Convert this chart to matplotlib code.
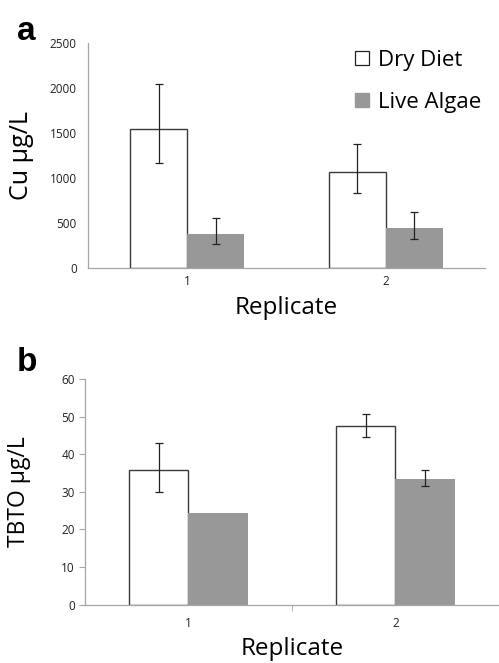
import matplotlib
matplotlib.use("Agg")
import matplotlib.pyplot as plt
import numpy as np
from matplotlib.lines import Line2D

# Data
replicates = ["1", "2"]
series_names = ["Dry Diet", "Live Algae"]

cu_dry = [1550, 1070]
cu_dry_err_low = [380, 237]
cu_dry_err_high = [494, 308]
cu_live = [381, 441]
cu_live_err_low = [118, 119]
cu_live_err_high = [178, 178]

tbto_dry = [35.9, 47.5]
tbto_dry_err_low = [5.9, 3.0]
tbto_dry_err_high = [7.2, 3.1]
tbto_live = [24.5, 33.4]
tbto_live_err_low = [0.0, 1.9]
tbto_live_err_high = [0.0, 2.4]

cu_yticks = [0, 500, 1000, 1500, 2000, 2500]
tbto_yticks = [0, 10, 20, 30, 40, 50, 60]

FONT = "Open Sans"
plt.rcParams['font.family'] = [FONT, 'DejaVu Sans']

fig = plt.figure(figsize=(4.99, 6.63), dpi=100)

DRY_FACE = "white"
DRY_EDGE = "#3a3a3a"
LIVE_FACE = "#989898"
AXCOL = "#a6a6a6"
width = 0.287
x = np.arange(1, len(replicates) + 1)

def draw(ax, dry, dlo, dhi, live, llo, lhi, yticks, ylabel, show_ticks, ylfs):
    ax.bar(x - width / 2, dry, width, color=DRY_FACE, edgecolor=DRY_EDGE, linewidth=1.0, zorder=2)
    ax.bar(x + width / 2, live, width, color=LIVE_FACE, edgecolor="none", zorder=2)
    ax.errorbar(x - width / 2, dry, yerr=[dlo, dhi], fmt="none", ecolor="#222222",
                elinewidth=0.9, capsize=2.7, capthick=0.9, zorder=3)
    lo = np.array(llo); hi = np.array(lhi)
    mask = (lo + hi) > 0
    ax.errorbar((x + width / 2)[mask], np.array(live)[mask], yerr=[lo[mask], hi[mask]], fmt="none",
                ecolor="#222222", elinewidth=0.9, capsize=2.7, capthick=0.9, zorder=3)
    ax.set_xlim(0.5, 2.5)
    ax.set_ylim(yticks[0], yticks[-1])
    ax.set_yticks(yticks)
    ax.set_yticklabels([str(t) for t in yticks], fontsize=8.5, color="#222222")
    ax.set_xticks(x)
    ax.set_xticklabels(replicates, fontsize=8.5, color="#222222")
    for s in ["top", "right"]:
        ax.spines[s].set_visible(False)
    for s in ["left", "bottom"]:
        ax.spines[s].set_color(AXCOL)
        ax.spines[s].set_linewidth(0.9)
    if show_ticks:
        ax.tick_params(axis="y", length=4, color=AXCOL, pad=3)
        ax.tick_params(axis="x", length=0, pad=9)
        ax.set_xticks([1.5], minor=True)
        ax.tick_params(axis="x", which="minor", length=4, color=AXCOL)
    else:
        ax.tick_params(axis="y", length=0, pad=8)
        ax.tick_params(axis="x", length=0, pad=5)
    ax.set_ylabel(ylabel, fontsize=ylfs)

ax1 = fig.add_axes([0.1764, 0.5958, 0.7956, 0.3392])
draw(ax1, cu_dry, cu_dry_err_low, cu_dry_err_high, cu_live, cu_live_err_low, cu_live_err_high,
     cu_yticks, "Cu µg/L", False, 18)
ax1.set_xlabel("Replicate", fontsize=17.5, labelpad=6)
ax1.yaxis.set_label_coords(-0.135, 0.5)

handles = [Line2D([0], [0], marker="s", linestyle="none", markersize=10,
                  markerfacecolor="white", markeredgecolor="#222222", markeredgewidth=0.9),
           Line2D([0], [0], marker="s", linestyle="none", markersize=10,
                  markerfacecolor=LIVE_FACE, markeredgecolor=LIVE_FACE)]
ax1.legend(handles, series_names, loc="upper right", bbox_to_anchor=(1.04, 1.06), frameon=False,
           fontsize=16, handlelength=0.8, handletextpad=0.3, labelspacing=0.95)

ax2 = fig.add_axes([0.1697, 0.0879, 0.8303, 0.3405])
draw(ax2, tbto_dry, tbto_dry_err_low, tbto_dry_err_high, tbto_live, tbto_live_err_low, tbto_live_err_high,
     tbto_yticks, "TBTO µg/L", True, 16.5)
ax2.set_xlabel("Replicate", fontsize=17.5, labelpad=5)
ax2.yaxis.set_label_coords(-0.13, 0.5)

fig.text(0.034, 0.94, "a", fontsize=24, fontweight="bold", family="Liberation Sans")
fig.text(0.034, 0.44, "b", fontsize=24, fontweight="bold", family="Liberation Sans")

fig.savefig("out.png", dpi=100)
